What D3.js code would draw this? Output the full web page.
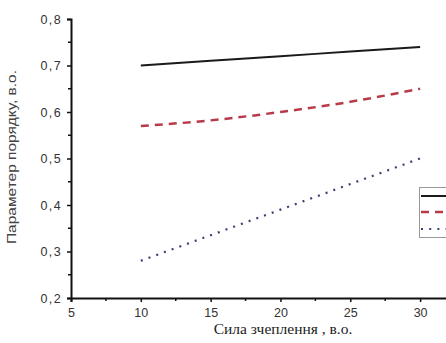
<!DOCTYPE html>
<html>
<head>
<meta charset="utf-8">
<script src="https://cdn.jsdelivr.net/npm/d3@7"></script>
<style>
  html, body { margin: 0; padding: 0; background: #fff; }
  svg { display: block; }
</style>
</head>
<body>
<div id="chart"></div>
<script>
// coupling strength values (x)
const forces = [10, 15, 20, 25, 30];
// order parameter series
const seriesSolid = [0.70, 0.71, 0.72, 0.73, 0.74];
const seriesDashed = [0.57, 0.582, 0.60, 0.622, 0.65];
const seriesDotted = [0.28, 0.335, 0.39, 0.445, 0.50];
const yTicks = [0.2, 0.3, 0.4, 0.5, 0.6, 0.7, 0.8];
const xTicks = [5, 10, 15, 20, 25, 30];

const width = 446, height = 343;

const svg = d3.select('#chart')
    .append('svg')
    .attr('width', width)
    .attr('height', height);

svg.append('rect').attr('width', width).attr('height', height).attr('fill', '#fff');

// x axis runs off the right edge, as in the cropped original
const x = d3.scaleLinear().domain([5, 33]).range([71, 462]);
const y = d3.scaleLinear().domain([0.2, 0.8]).range([298, 19]);

const fmt = d => d3.format('.1f')(d).replace('.', ',');

// minor ticks
const yMinor = d3.range(0.25, 0.8, 0.1);
const xMinor = d3.range(7.5, 33, 5);

svg.append('g')
    .selectAll('line')
    .data(yMinor)
    .join('line')
    .attr('x1', 68).attr('x2', 71)
    .attr('y1', d => y(d)).attr('y2', d => y(d))
    .attr('stroke', '#111').attr('stroke-width', 1.5);

svg.append('g')
    .selectAll('line')
    .data(xMinor)
    .join('line')
    .attr('x1', d => x(d)).attr('x2', d => x(d))
    .attr('y1', 298).attr('y2', 301)
    .attr('stroke', '#111').attr('stroke-width', 1.5);

// Y axis
const gy = svg.append('g')
    .attr('transform', 'translate(71,0)')
    .call(d3.axisLeft(y).tickValues(yTicks).tickFormat(fmt).tickSize(4).tickPadding(5));

// X axis
const gx = svg.append('g')
    .attr('transform', 'translate(0,298)')
    .call(d3.axisBottom(x).tickValues(xTicks).tickFormat(d3.format('d')).tickSize(4).tickPadding(6));

[gy, gx].forEach(g => {
    g.select('.domain').attr('stroke', '#111').attr('stroke-width', 2);
    g.selectAll('.tick line').attr('stroke', '#111').attr('stroke-width', 1.5);
    g.selectAll('.tick text')
        .attr('fill', '#333')
        .attr('font-family', 'Liberation Sans, Arial, sans-serif')
        .attr('font-size', 12.5);
});
gy.selectAll('.tick text').attr('letter-spacing', 1.4);

// Axis titles
svg.append('text')
    .attr('transform', 'translate(16,157) rotate(-90)')
    .attr('text-anchor', 'middle')
    .attr('font-family', 'Liberation Sans, Arial, sans-serif')
    .attr('font-size', 13)
    .attr('fill', '#444')
    .attr('textLength', 174)
    .attr('lengthAdjust', 'spacingAndGlyphs')
    .text('Параметер порядку, в.о.');

svg.append('text')
    .attr('x', 283)
    .attr('y', 334)
    .attr('text-anchor', 'middle')
    .attr('font-family', 'Liberation Serif, Times New Roman, serif')
    .attr('font-size', 15.5)
    .attr('fill', '#222')
    .text('Сила зчеплення , в.о.');

// Lines
const line = d3.line()
    .x((d, i) => x(forces[i]))
    .y(d => y(d))
    .curve(d3.curveMonotoneX);

const series = [
    { values: seriesSolid, color: '#1a1a1a', dash: null, width: 2 },
    { values: seriesDashed, color: '#b83a48', dash: '8,6', width: 2.5 },
    { values: seriesDotted, color: '#3e3e72', dash: '2,6.2', width: 2.2 }
];

series.forEach(s => {
    svg.append('path')
        .attr('d', line(s.values))
        .attr('fill', 'none')
        .attr('stroke', s.color)
        .attr('stroke-width', s.width)
        .attr('stroke-dasharray', s.dash);
});

// Legend (cut off by the right edge)
const legend = svg.append('g');
legend.append('rect')
    .attr('x', 419.5).attr('y', 187.5)
    .attr('width', 60).attr('height', 50)
    .attr('fill', '#fff')
    .attr('stroke', '#999')
    .attr('stroke-width', 1);

const legendY = [196, 212, 229];
series.forEach((s, i) => {
    legend.append('line')
        .attr('x1', 421).attr('x2', 470)
        .attr('y1', legendY[i]).attr('y2', legendY[i])
        .attr('stroke', s.color)
        .attr('stroke-width', s.width)
        .attr('stroke-dasharray', s.dash);
});
</script>
</body>
</html>
